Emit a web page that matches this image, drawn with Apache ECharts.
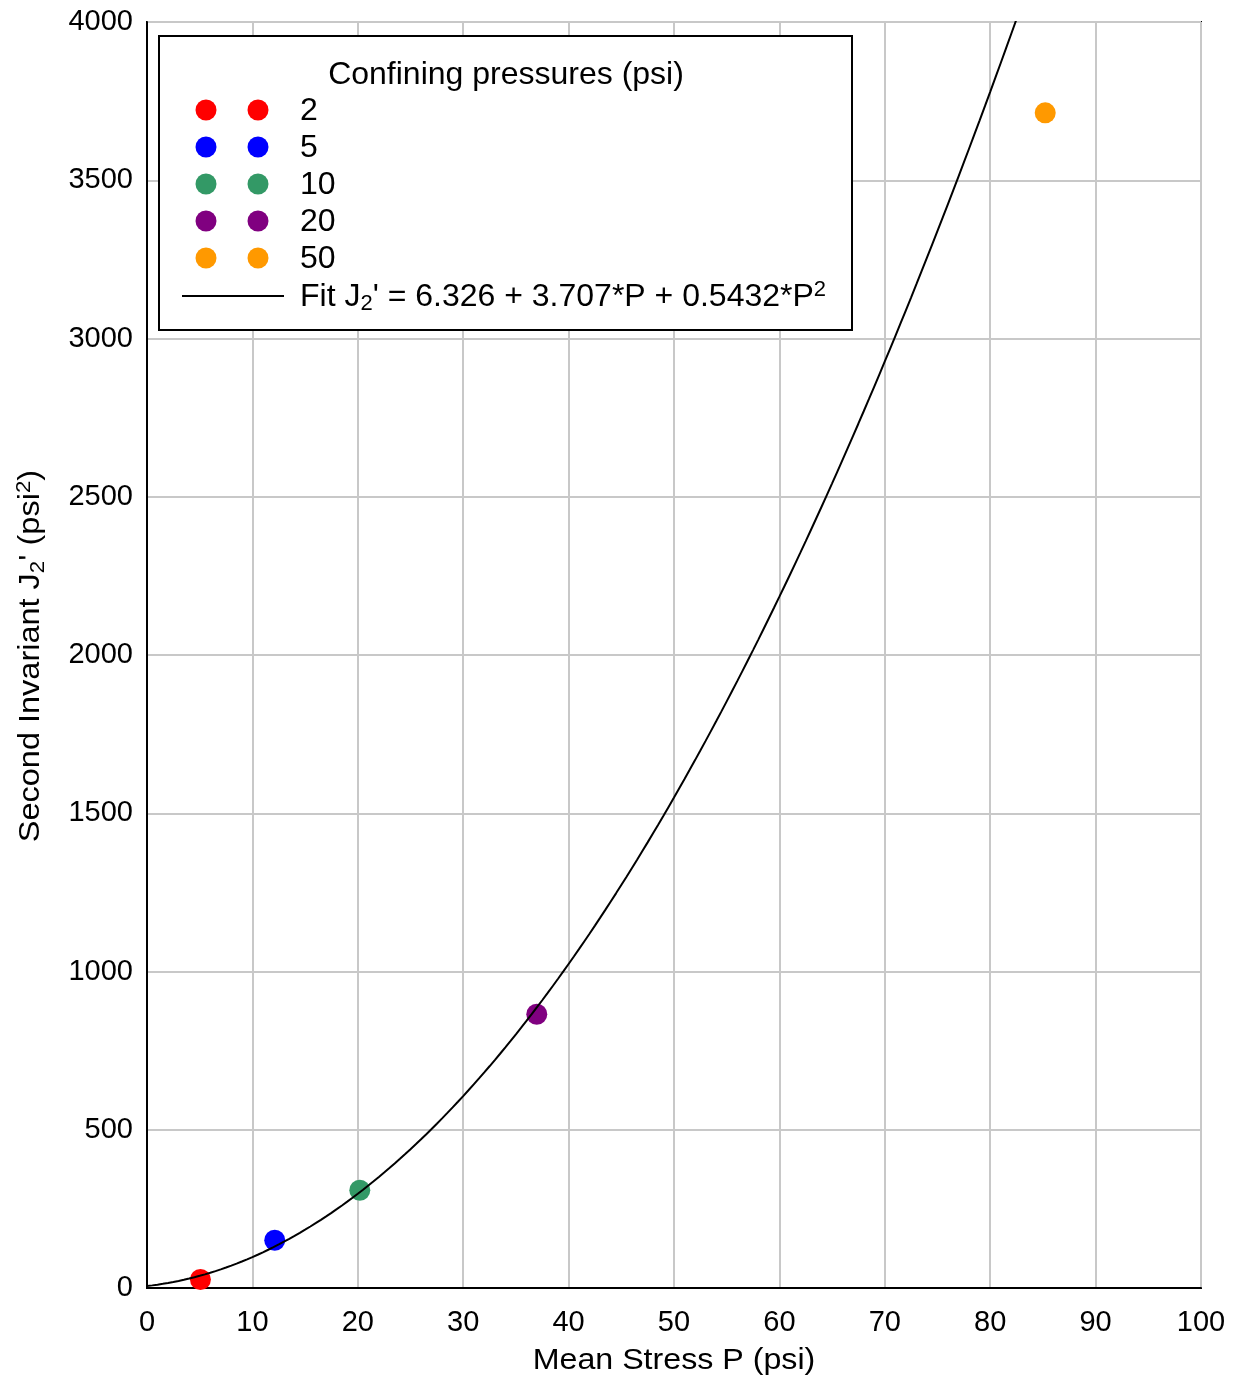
<!DOCTYPE html>
<html>
<head>
<meta charset="utf-8">
<title>Second Invariant vs Mean Stress</title>
<script src="https://cdn.jsdelivr.net/npm/echarts@6/dist/echarts.min.js"></script>
<style>
  html, body { margin: 0; padding: 0; background: #ffffff; }
  #chart { width: 1243px; height: 1383px; }
</style>
</head>
<body>
<div id="chart"></div>
<script>
// Confining pressure groups (psi) and their measured points
const pressureLabels = ['2', '5', '10', '20', '50'];
const pressureColors = ['#ff0000', '#0000ff', '#339966', '#800080', '#ff9900'];
const meanStress = [5.07, 12.12, 20.19, 36.98, 85.22];        // P (psi)
const secondInvariant = [27, 151, 309, 865, 3713];            // J2' (psi^2)

// Quadratic fit J2' = c0 + c1*P + c2*P^2
const fitCoefficients = [6.326, 3.707, 0.5432];
const fitP = [];
for (let p = 0; p <= 100; p += 0.5) fitP.push(p);

// Axis ticks
const xTicks = { min: 0, max: 100, step: 10 };
const yTicks = { min: 0, max: 4000, step: 500 };

const FONT = '"Liberation Sans", Arial, sans-serif';

function fitValue(p) {
  return fitCoefficients[0] + fitCoefficients[1] * p + fitCoefficients[2] * p * p;
}

const chart = echarts.init(document.getElementById('chart'), null, { renderer: 'canvas' });

const scatterSeries = pressureLabels.map((name, i) => ({
  name: name,
  type: 'scatter',
  data: [[meanStress[i], secondInvariant[i]]],
  symbol: 'circle',
  symbolSize: 21,
  itemStyle: { color: pressureColors[i], opacity: 1 },
  z: 3
}));

const fitSeries = {
  name: 'Fit',
  type: 'line',
  data: fitP.map(p => [p, fitValue(p)]),
  showSymbol: false,
  symbol: 'none',
  smooth: false,
  clip: true,
  lineStyle: { color: '#000000', width: 2 },
  z: 4
};

// Legend drawn as a boxed panel with two markers per entry
const LZ = 100;
const legendLeft = 159, legendTop = 36, legendW = 693, legendH = 294;
const rowY = [110, 147, 184, 221, 258];
const legendChildren = [
  {
    type: 'rect',
    z: LZ,
    shape: { x: legendLeft, y: legendTop, width: legendW, height: legendH },
    style: { fill: '#ffffff', stroke: '#000000', lineWidth: 2 }
  },
  {
    type: 'text',
    z: LZ + 1,
    x: 506, y: 75,
    style: {
      text: 'Confining pressures (psi)',
      font: '32px ' + FONT,
      fill: '#000000',
      align: 'center',
      verticalAlign: 'middle'
    }
  }
];
pressureLabels.forEach((name, i) => {
  [206, 258].forEach(cx => {
    legendChildren.push({
      type: 'circle',
      z: LZ + 1,
      shape: { cx: cx, cy: rowY[i], r: 10.5 },
      style: { fill: pressureColors[i] }
    });
  });
  legendChildren.push({
    type: 'text',
    z: LZ + 1,
    x: 300, y: rowY[i] + 1,
    style: {
      text: name,
      font: '32px ' + FONT,
      fill: '#000000',
      align: 'left',
      verticalAlign: 'middle'
    }
  });
});
legendChildren.push({
  type: 'line',
  z: LZ + 1,
  shape: { x1: 182, y1: 296, x2: 284, y2: 296 },
  style: { stroke: '#000000', lineWidth: 2 }
});
legendChildren.push({
  type: 'text',
  z: LZ + 1,
  x: 300, y: 297,
  style: {
    text: '{n|Fit J}{sub|2}{n|\' = 6.326 + 3.707*P + 0.5432*P}{sup|2}',
    align: 'left',
    verticalAlign: 'middle',
    rich: {
      n: { font: '32px ' + FONT, fill: '#000000', lineHeight: 36, verticalAlign: 'middle' },
      sub: { font: '22px ' + FONT, fill: '#000000', lineHeight: 22, verticalAlign: 'bottom' },
      sup: { font: '22px ' + FONT, fill: '#000000', lineHeight: 22, verticalAlign: 'top' }
    }
  }
});

const option = {
  backgroundColor: '#ffffff',
  animation: false,
  textStyle: { fontFamily: FONT },
  grid: {
    left: 147, right: 42, top: 22, bottom: 95,
    show: true,
    borderColor: '#000000',
    borderWidth: 2,
    backgroundColor: 'transparent'
  },
  xAxis: {
    type: 'value',
    min: xTicks.min, max: xTicks.max, interval: xTicks.step,
    axisLine: { show: true, lineStyle: { color: '#000000', width: 2 } },
    axisTick: { show: false },
    axisLabel: { fontSize: 29, color: '#000000', margin: 20, fontFamily: FONT,
                 formatter: v => String(v) },
    splitLine: { show: true, lineStyle: { color: '#c8c8c8', width: 2 } }
  },
  yAxis: {
    type: 'value',
    min: yTicks.min, max: yTicks.max, interval: yTicks.step,
    axisLine: { show: true, lineStyle: { color: '#000000', width: 2 } },
    axisTick: { show: false },
    axisLabel: { fontSize: 29, color: '#000000', margin: 14, fontFamily: FONT,
                 formatter: v => String(v) },
    splitLine: { show: true, lineStyle: { color: '#c8c8c8', width: 2 } }
  },
  series: scatterSeries.concat([fitSeries]),
  graphic: [
    {
      type: 'group',
      children: legendChildren
    },
    // x axis title
    {
      type: 'text',
      z: LZ,
      x: 674, y: 1361,
      scaleX: 1.11,
      style: {
        text: 'Mean Stress P (psi)',
        font: '29px ' + FONT,
        fill: '#000000',
        align: 'center',
        verticalAlign: 'middle'
      }
    },
    // y axis title, reading bottom to top
    {
      type: 'text',
      z: LZ,
      x: 31, y: 656,
      rotation: Math.PI / 2,
      scaleX: 1.12,
      style: {
        text: '{n|Second Invariant J}{sub|2}{n|\' (psi}{sup|2}{n|)}',
        align: 'center',
        verticalAlign: 'middle',
        rich: {
          n: { font: '29px ' + FONT, fill: '#000000', lineHeight: 34, verticalAlign: 'middle' },
          sub: { font: '20px ' + FONT, fill: '#000000', lineHeight: 20, verticalAlign: 'bottom' },
          sup: { font: '20px ' + FONT, fill: '#000000', lineHeight: 20, verticalAlign: 'top' }
        }
      }
    }
  ]
};

chart.setOption(option);
</script>
</body>
</html>
